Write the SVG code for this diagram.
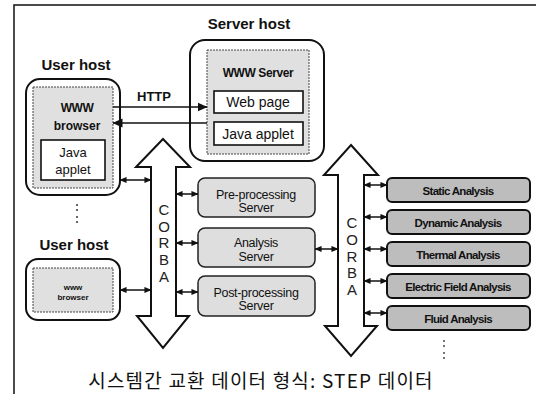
<svg xmlns="http://www.w3.org/2000/svg" width="536" height="394" viewBox="0 0 536 394">
<style>
text{font-family:"Liberation Sans",Arial,sans-serif;fill:#111}
.kr{font-family:"Noto Sans CJK KR","Liberation Sans",sans-serif}
.host{fill:#fff;stroke:#111;stroke-width:2}
.inner{fill:#e0e0e0;stroke:#444;stroke-width:1;stroke-dasharray:2 1}
.wbox{fill:#fff;stroke:#111;stroke-width:1.6}
.srv{fill:#dedede;stroke:#222;stroke-width:1.5}
.ana{fill:#bdbdbd;stroke:#111;stroke-width:2}
.corba{fill:#fff;stroke:#111;stroke-width:2}
.link{stroke:#111;stroke-width:1.5;fill:none;marker-start:url(#sa);marker-end:url(#sa)}
.http{stroke:#111;stroke-width:1.5;fill:none;marker-end:url(#ha)}
.hl{font-weight:bold;font-size:15px;text-anchor:middle}
.st{font-size:12.5px;text-anchor:middle;letter-spacing:-0.3px}
.at{font-size:11.5px;font-weight:bold;text-anchor:middle;letter-spacing:-0.7px}
.cb{font-size:15px;text-anchor:middle;fill:#222}
.dot{fill:#333}
</style>
<defs>
<marker id="sa" viewBox="0 0 8 8" refX="7.5" refY="4" markerWidth="7" markerHeight="7" markerUnits="userSpaceOnUse" orient="auto-start-reverse"><path d="M0,0.5 L8,4 L0,7.5 z" fill="#111"/></marker>
<marker id="ha" viewBox="0 0 10 10" refX="9.5" refY="5" markerWidth="10" markerHeight="10" markerUnits="userSpaceOnUse" orient="auto-start-reverse"><path d="M0,0.5 L10,5 L0,9.5 z" fill="#111"/></marker>
</defs>

<g id="frame"><path d="M14,394 V5 H536" fill="none" stroke="#111" stroke-width="1.5"/></g>

<g id="server-host">
<text class="hl" x="249" y="29">Server host</text>
<rect class="host" x="190" y="40" width="134" height="121" rx="15"/>
<rect class="inner" x="207" y="50" width="102" height="104"/>
<text x="258" y="77" font-size="12" font-weight="bold" text-anchor="middle" letter-spacing="-0.4">WWW Server</text>
<g id="web-page"><rect class="wbox" x="214" y="91" width="89" height="22"/><text x="258" y="107" font-size="14" text-anchor="middle">Web page</text></g>
<g id="server-java-applet"><rect class="wbox" x="214" y="122" width="89" height="23"/><text x="258" y="139" font-size="14" text-anchor="middle">Java applet</text></g>
</g>

<g id="user-host-1">
<text class="hl" x="76" y="70">User host</text>
<rect class="host" x="26" y="79" width="94" height="116" rx="14"/>
<rect class="inner" x="33" y="87" width="80" height="101"/>
<text x="77" y="112" font-size="12" font-weight="bold" text-anchor="middle" letter-spacing="-0.5">WWW</text>
<text x="77" y="130" font-size="12" font-weight="bold" text-anchor="middle">browser</text>
<g id="user-java-applet"><rect class="wbox" x="41" y="140" width="64" height="40"/><text x="73" y="157" font-size="13" text-anchor="middle">Java</text><text x="73" y="174" font-size="13" text-anchor="middle">applet</text></g>
</g>

<g id="user-host-2">
<text class="hl" x="74" y="250">User host</text>
<rect class="host" x="26" y="259" width="94" height="61" rx="12"/>
<rect class="inner" x="33" y="268" width="80" height="44"/>
<text x="73" y="290" font-size="8" font-weight="bold" text-anchor="middle">www</text>
<text x="73" y="300" font-size="8" font-weight="bold" text-anchor="middle">browser</text>
</g>

<g id="corba-left">
<polygon class="corba" points="163,139 190,167 176,167 176,316 189,316 163,348 137,316 151,316 151,167 136,167"/>
<text class="cb" x="164" y="215">C</text><text class="cb" x="164" y="232">O</text><text class="cb" x="164" y="248">R</text><text class="cb" x="164" y="265">B</text><text class="cb" x="164" y="282">A</text>
</g>

<g id="corba-right">
<polygon class="corba" points="351,145 378,175 364,175 364,326 377,326 351,356 325,326 338,326 338,175 324,175"/>
<text class="cb" x="352" y="228">C</text><text class="cb" x="352" y="245">O</text><text class="cb" x="352" y="262">R</text><text class="cb" x="352" y="278">B</text><text class="cb" x="352" y="295">A</text>
</g>

<g id="pre-processing">
<rect class="srv" x="198" y="178" width="117" height="39" rx="7"/>
<text class="st" x="256" y="199">Pre-processing</text><text class="st" x="256" y="212">Server</text>
</g>
<g id="analysis">
<rect class="srv" x="198" y="228" width="117" height="39" rx="7"/>
<text class="st" x="256" y="247">Analysis</text><text class="st" x="256" y="261">Server</text>
</g>
<g id="post-processing">
<rect class="srv" x="198" y="276" width="117" height="40" rx="7"/>
<text class="st" x="256" y="297">Post-processing</text><text class="st" x="256" y="310">Server</text>
</g>

<g id="static"><rect class="ana" x="387" y="178" width="143" height="24" rx="5"/><text class="at" x="458" y="195">Static Analysis</text></g>
<g id="dynamic"><rect class="ana" x="387" y="210" width="143" height="24" rx="5"/><text class="at" x="458" y="227">Dynamic Analysis</text></g>
<g id="thermal"><rect class="ana" x="387" y="242" width="143" height="24" rx="5"/><text class="at" x="458" y="259">Thermal Analysis</text></g>
<g id="electric"><rect class="ana" x="387" y="274" width="143" height="24" rx="5"/><text class="at" x="458" y="291">Electric Field Analysis</text></g>
<g id="fluid"><rect class="ana" x="387" y="306" width="143" height="24" rx="5"/><text class="at" x="458" y="323">Fluid Analysis</text></g>

<g id="ellipses">
<circle class="dot" cx="77" cy="205" r="1"/><circle class="dot" cx="77" cy="210" r="1"/><circle class="dot" cx="77" cy="217" r="1"/><circle class="dot" cx="77" cy="222" r="1"/>
<circle class="dot" cx="444" cy="341" r="0.9"/><circle class="dot" cx="444" cy="346" r="0.9"/><circle class="dot" cx="444" cy="353" r="0.9"/><circle class="dot" cx="444" cy="358" r="0.9"/>
</g>

<g id="connectors">
<text x="154" y="101" font-size="13" font-weight="bold" text-anchor="middle">HTTP</text>
<line class="http" x1="113" y1="107" x2="207" y2="107"/>
<line class="http" x1="207" y1="123" x2="113" y2="123"/>
<line class="link" x1="120" y1="180" x2="151" y2="180"/>
<line class="link" x1="120" y1="290" x2="151" y2="290"/>
<line class="link" x1="176" y1="194" x2="198" y2="194"/>
<line class="link" x1="176" y1="243" x2="198" y2="243"/>
<line class="link" x1="176" y1="292" x2="198" y2="292"/>
<line class="link" x1="315" y1="249" x2="338" y2="249"/>
<line class="link" x1="364" y1="185" x2="387" y2="185"/>
<line class="link" x1="364" y1="217" x2="387" y2="217"/>
<line class="link" x1="364" y1="249" x2="387" y2="249"/>
<line class="link" x1="364" y1="281" x2="387" y2="281"/>
<line class="link" x1="364" y1="313" x2="387" y2="313"/>
</g>

<g id="caption"><text class="kr" x="261" y="388" font-size="19" text-anchor="middle" letter-spacing="1.2">시스템간 교환 데이터 형식: STEP 데이터</text></g>
</svg>
